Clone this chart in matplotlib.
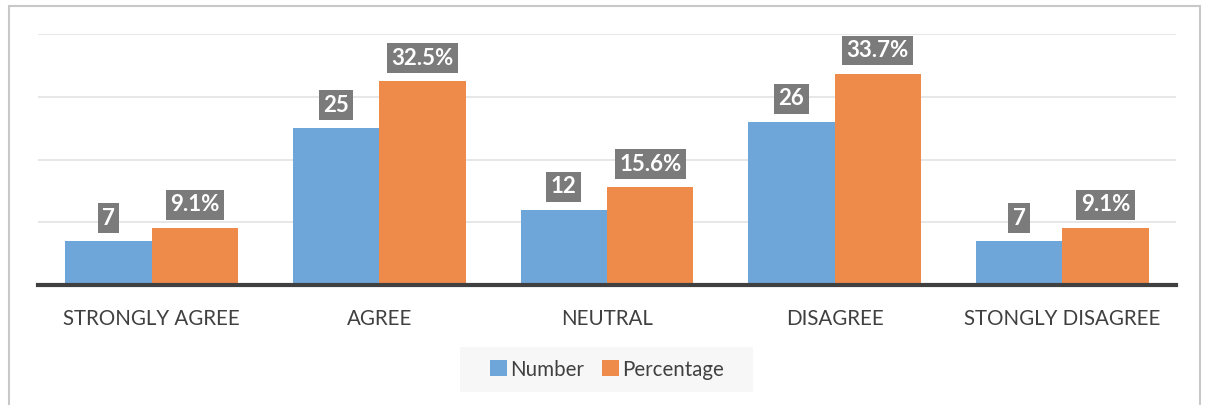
import matplotlib
matplotlib.use("Agg")
import matplotlib.pyplot as plt
from matplotlib.patches import Rectangle
import numpy as np

categories = ["STRONGLY AGREE", "AGREE", "NEUTRAL", "DISAGREE", "STONGLY DISAGREE"]
number = [7, 25, 12, 26, 7]
percentage = [9.1, 32.5, 15.6, 33.7, 9.1]
number_labels = ["7", "25", "12", "26", "7"]
percentage_labels = ["9.1%", "32.5%", "15.6%", "33.7%", "9.1%"]

# Lato is close to Calibri in shape
plt.rcParams['font.family'] = ['Lato', 'DejaVu Sans']

blue = "#6fa6da"
orange = "#ee8b4b"
W, H = 1208, 405

fig = plt.figure(figsize=(W / 100, H / 100), dpi=100)
ax = fig.add_axes([38 / W, 1 - 285 / H, (1176 - 38) / W, (285 - 34) / H])

# outer frame of the chart
fig.patches.append(Rectangle((9 / W, -0.1), (1200 - 9) / W, 1 - 6 / H + 0.1,
                             transform=fig.transFigure, fill=False,
                             edgecolor="#c8c8c8", linewidth=1.5))
# legend background
fig.patches.append(Rectangle((460 / W, 1 - 392 / H), (753 - 460) / W, 45 / H,
                             transform=fig.transFigure, facecolor="#f7f7f7",
                             edgecolor="none"))

x = np.arange(len(categories))
w = 0.38
b1 = ax.bar(x - w / 2, number, w, color=blue, label="Number", zorder=2)
b2 = ax.bar(x + w / 2, percentage, w, color=orange, label="Percentage", zorder=2)

box = dict(boxstyle="square,pad=0.2", facecolor="#7b7b7b", edgecolor="none")
for bars, labs in [(b1, number_labels), (b2, percentage_labels)]:
    for r, t in zip(bars, labs):
        ax.annotate(t, (r.get_x() + r.get_width() / 2, r.get_height()),
                    xytext=(0, 9), textcoords="offset points",
                    ha="center", va="bottom", color="white", fontsize=16,
                    fontweight="bold", bbox=box, zorder=3)

ax.set_xlim(-0.5, len(categories) - 0.5)
ax.set_ylim(0, 40)
ax.set_yticks([10, 20, 30, 40])
ax.yaxis.grid(True, color="#e3e3e3", linewidth=1.2, zorder=0)
ax.tick_params(axis="y", left=False, labelleft=False)
ax.set_xticks(x)
ax.set_xticklabels(categories, fontsize=14.8, color="#404040")
ax.tick_params(axis="x", length=0, pad=17)
for s in ["top", "right", "left"]:
    ax.spines[s].set_visible(False)
ax.spines["bottom"].set_color("#404040")
ax.spines["bottom"].set_linewidth(3)
ax.spines["bottom"].set_zorder(4)

leg = fig.legend(loc="center", bbox_to_anchor=(607 / W, 1 - 369.5 / H), ncol=2,
                 frameon=False, fontsize=14.8, handlelength=0.8, handleheight=0.8,
                 handletextpad=0.15, columnspacing=0.9, borderpad=0,
                 borderaxespad=0)
for t in leg.get_texts():
    t.set_color("#404040")

fig.savefig("out.png", dpi=100)
